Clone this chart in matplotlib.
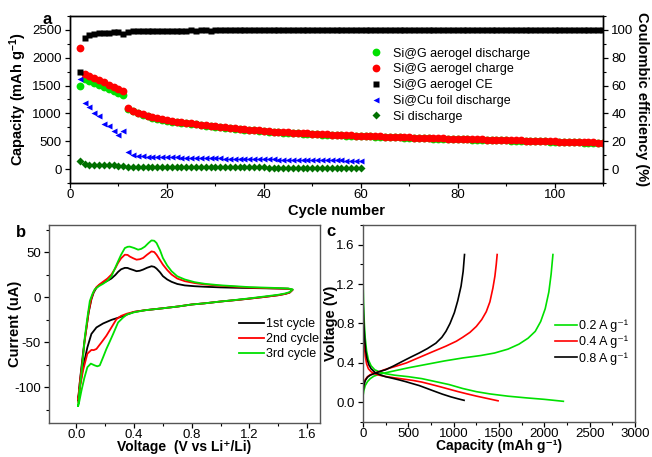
import numpy as np
import matplotlib
matplotlib.use("Agg")
import matplotlib.pyplot as plt
from matplotlib.ticker import MultipleLocator
from matplotlib.lines import Line2D

plt.rcParams['font.family'] = ['Liberation Sans', 'DejaVu Sans']
plt.rcParams['mathtext.default'] = 'regular'
plt.rcParams['axes.unicode_minus'] = False

# ---- panel a : cycling data ----
cyc_g = np.arange(2, 111)
charge_g = [2180,
            1710, 1672, 1634, 1595, 1556, 1517, 1478, 1438, 1397,
            1090, 1050, 1015, 985, 958, 934, 912, 893, 876, 862,
            850, 839, 829, 820, 810, 800, 790, 780, 770, 761,
            752, 743, 734, 725, 717, 709, 701, 693, 686, 680,
            674, 668, 663, 658, 653, 648, 643, 639, 635, 631,
            627, 623, 619, 615, 612, 609, 606, 603, 600, 597,
            594, 591, 588, 585, 582, 579, 576, 573, 570, 567,
            564, 561, 558, 556, 554, 552, 549, 547, 545, 542,
            540, 538, 535, 533, 531, 528, 526, 524, 521, 519,
            517, 514, 512, 510, 507, 505, 503, 500, 498, 495,
            493, 491, 488, 486, 484, 481, 479, 477, 476]
discharge_g = [1500,
               1610, 1575, 1540, 1505, 1470, 1436, 1402, 1368, 1335,
               1075, 1038, 1004, 975, 949, 925, 904, 885, 868, 854,
               842, 831, 821, 812, 802, 792, 782, 772, 763, 754,
               745, 736, 727, 718, 710, 702, 694, 686, 679, 673,
               667, 661, 656, 651, 646, 641, 636, 632, 628, 624,
               620, 616, 612, 608, 605, 602, 599, 596, 593, 590,
               587, 584, 581, 578, 575, 572, 569, 566, 563, 560,
               557, 554, 551, 549, 547, 545, 542, 540, 538, 535,
               533, 531, 528, 526, 524, 521, 519, 517, 514, 512,
               510, 507, 505, 503, 500, 498, 496, 493, 491, 488,
               486, 484, 481, 479, 477, 474, 472, 470, 469]
ce_g = [69.5,
        94.5, 96.6, 97.3, 97.7, 97.9, 98.1, 98.2, 98.3, 97.0,
        98.4, 98.9, 99.1, 99.2, 99.3, 99.3, 99.4, 99.4, 99.4, 99.5,
        99.5, 99.5, 99.5, 99.6, 99.5, 99.6, 99.6, 99.5, 99.6, 99.6,
        99.6, 99.6, 99.7, 99.6, 99.6, 99.7, 99.6, 99.7, 99.7, 99.6,
        99.7, 99.7, 99.7, 99.6, 99.7, 99.7, 99.7, 99.8, 99.7, 99.7,
        99.7, 99.8, 99.7, 99.7, 99.8, 99.7, 99.8, 99.7, 99.8, 99.7,
        99.8, 99.8, 99.7, 99.8, 99.8, 99.7, 99.8, 99.8, 99.8, 99.7,
        99.8, 99.8, 99.8, 99.8, 99.7, 99.8, 99.8, 99.8, 99.8, 99.8,
        99.8, 99.7, 99.8, 99.8, 99.8, 99.8, 99.8, 99.8, 99.7, 99.8,
        99.8, 99.8, 99.8, 99.8, 99.8, 99.8, 99.7, 99.8, 99.8, 99.8,
        99.8, 99.8, 99.8, 99.8, 99.8, 99.8, 99.8, 99.8, 99.8]
cyc_cu = np.arange(2, 61)
discharge_cu = [1627, 1187, 1108, 1007, 958, 808, 765, 687, 615, 692,
                313, 253, 238, 230, 225, 221, 218, 215, 212, 210,
                208, 206, 204, 202, 200, 198, 196, 194, 192, 190,
                188, 186, 184, 182, 180, 178, 176, 175, 174, 173,
                172, 170, 169, 168, 167, 166, 164, 163, 162, 161,
                160, 158, 157, 156, 155, 153, 152, 150, 148]
discharge_si = [150, 90, 78, 74, 71, 69, 67, 65, 63, 61,
                45, 43, 42, 41, 40, 40, 39, 38, 38, 37,
                37, 36, 36, 35, 35, 34, 34, 33, 33, 32,
                32, 31, 31, 30, 30, 30, 29, 29, 29, 28,
                28, 28, 27, 27, 27, 26, 26, 26, 25, 25,
                25, 25, 24, 24, 24, 23, 23, 23, 22]

# ---- panel b : CV loops (V, uA) ----
cv1_v = [0.012, 0.025, 0.04, 0.055, 0.07, 0.085, 0.104, 0.12, 0.139, 0.16, 0.185, 0.215,
         0.243, 0.27, 0.289, 0.31, 0.336, 0.355, 0.37, 0.395, 0.417, 0.44, 0.463, 0.49,
         0.521, 0.54, 0.556, 0.58, 0.60, 0.63, 0.66, 0.70, 0.752, 0.82, 0.89, 1.0, 1.1,
         1.2, 1.3, 1.4, 1.47, 1.5,
         1.48, 1.45, 1.4, 1.3, 1.2, 1.1, 1.0, 0.89, 0.8, 0.706, 0.6, 0.475, 0.4, 0.359,
         0.31, 0.243, 0.185, 0.139, 0.104, 0.076, 0.046, 0.025, 0.012]
cv1_i = [-114.7, -92, -70.6, -50, -33.8, -17, -2.6, 5, 10.3, 13.5, 15.8, 18,
         20.6, 24.5, 27.9, 30.8, 32.4, 32.3, 31.3, 30, 28.7, 29.2, 30.5, 32.5,
         34.2, 33.5, 31.6, 27.5, 23.2, 19.5, 16.9, 14.5, 12.9, 12, 11.4, 10.7, 10.3,
         10, 9.7, 9.4, 9.2, 8,
         5, 3.5, 2, 0, -1.8, -3.5, -5, -7, -8.3, -10.5, -12.5, -14.7, -16.5, -19,
         -22, -25.4, -29.4, -33.8, -41, -56, -78, -98, -114.7]
cv2_v = [0.012, 0.025, 0.04, 0.055, 0.07, 0.085, 0.104, 0.12, 0.139, 0.16, 0.185, 0.215,
         0.243, 0.27, 0.289, 0.31, 0.336, 0.355, 0.37, 0.395, 0.417, 0.44, 0.463, 0.49,
         0.521, 0.54, 0.556, 0.58, 0.60, 0.63, 0.66, 0.70, 0.752, 0.82, 0.89, 1.0, 1.1,
         1.2, 1.3, 1.4, 1.47, 1.5,
         1.48, 1.45, 1.4, 1.3, 1.2, 1.1, 1.0, 0.89, 0.8, 0.706, 0.6, 0.475, 0.4, 0.35,
         0.31, 0.278, 0.243, 0.208, 0.174, 0.139, 0.12, 0.104, 0.076, 0.046, 0.025, 0.012]
cv2_i = [-113, -93, -74, -52, -34, -16, -1.5, 6, 11, 14, 17, 20.5,
         25, 32, 37.9, 43, 47, 46.8, 45, 43, 41.5, 42, 43.4, 47,
         50.7, 50, 47, 41, 36, 30, 25, 20.5, 17.6, 15.5, 14, 12.5, 11.5,
         10.5, 10, 9.5, 9.2, 8,
         5, 3.5, 2, 0, -1.8, -3.5, -5, -7, -8.3, -10.5, -12.5, -14.7, -16.5, -18.5,
         -21, -24.6, -33.8, -43, -50.4, -57.7, -59, -58.8, -63, -81.6, -100, -116.5]
cv3_v = [0.012, 0.022, 0.035, 0.047, 0.058, 0.075, 0.093, 0.11, 0.127, 0.155, 0.185, 0.215,
         0.243, 0.265, 0.289, 0.31, 0.336, 0.355, 0.37, 0.40, 0.428, 0.45, 0.475, 0.50,
         0.521, 0.54, 0.556, 0.58, 0.60, 0.63, 0.66, 0.70, 0.752, 0.82, 0.89, 1.0, 1.1,
         1.2, 1.3, 1.4, 1.47, 1.5,
         1.48, 1.45, 1.4, 1.3, 1.2, 1.1, 1.0, 0.89, 0.8, 0.706, 0.6, 0.475, 0.4, 0.35,
         0.324, 0.289, 0.255, 0.23, 0.208, 0.185, 0.162, 0.145, 0.127, 0.10, 0.076,
         0.055, 0.035, 0.02, 0.012]
cv3_i = [-121, -102, -85, -65, -45, -24, -4.4, 3, 8.5, 12, 14.7, 18,
         23, 31, 39.7, 47, 54.4, 55.8, 56, 54.5, 52.6, 53.5, 56, 60,
         62.9, 62.5, 60, 52, 43.4, 35, 28.7, 23, 19.5, 16.5, 14.7, 13, 12,
         11, 10.5, 10, 9.5, 8.5,
         5.5, 4, 2.5, 0.5, -1.5, -3.3, -5, -7, -8.3, -10.5, -12.5, -14.7, -17, -19.5,
         -22.8, -28.3, -41, -50, -57.7, -67, -76, -77, -76, -74, -78,
         -90, -104, -116, -121]

# ---- panel c : galvanostatic profiles (mAh/g, V) ----
g_dis_c = [0, 3, 7, 15, 25, 40, 60, 90, 130, 180, 250, 350, 500, 650, 800, 950, 1100,
           1250, 1400, 1600, 1800, 2000, 2210]
g_dis_v = [1.34, 1.15, 0.99, 0.80, 0.65, 0.52, 0.43, 0.37, 0.33, 0.31, 0.29, 0.275, 0.26,
           0.24, 0.21, 0.18, 0.14, 0.108, 0.085, 0.062, 0.045, 0.03, 0.01]
g_chg_c = [0, 10, 25, 50, 80, 120, 180, 250, 350, 500, 700, 900, 1100, 1300, 1450, 1600,
           1720, 1820, 1900, 1960, 2010, 2050, 2075, 2095]
g_chg_v = [0.06, 0.12, 0.17, 0.21, 0.24, 0.265, 0.285, 0.30, 0.32, 0.35, 0.385, 0.42, 0.45,
           0.475, 0.50, 0.54, 0.59, 0.65, 0.72, 0.82, 0.95, 1.12, 1.3, 1.5]
r_dis_c = [0, 3, 8, 15, 25, 40, 60, 90, 130, 180, 250, 350, 450, 550, 650, 750, 850, 950,
           1050, 1150, 1250, 1350, 1430, 1490]
r_dis_v = [1.0, 0.85, 0.7, 0.57, 0.47, 0.39, 0.34, 0.31, 0.29, 0.275, 0.262, 0.248, 0.235,
           0.222, 0.205, 0.182, 0.158, 0.133, 0.108, 0.085, 0.063, 0.043, 0.027, 0.015]
r_chg_c = [0, 10, 25, 50, 80, 120, 175, 250, 360, 480, 620, 760, 915, 1030, 1100, 1180,
           1250, 1310, 1360, 1400, 1433, 1455, 1470, 1480]
r_chg_v = [0.13, 0.19, 0.23, 0.26, 0.28, 0.295, 0.31, 0.335, 0.365, 0.40, 0.455, 0.51,
           0.57, 0.62, 0.66, 0.71, 0.77, 0.84, 0.92, 1.02, 1.16, 1.28, 1.4, 1.5]
k_dis_c = [0, 3, 8, 18, 30, 45, 65, 90, 137, 200, 248, 320, 396, 470, 544, 620, 693, 780,
           878, 970, 1050, 1115]
k_dis_v = [1.14, 0.98, 0.82, 0.65, 0.52, 0.44, 0.38, 0.34, 0.30, 0.275, 0.26, 0.245, 0.228,
           0.21, 0.19, 0.17, 0.145, 0.115, 0.082, 0.055, 0.035, 0.02]
k_chg_c = [0, 10, 25, 50, 80, 120, 175, 249, 340, 434, 530, 619, 710, 804, 870, 915, 960,
           1008, 1045, 1082, 1105, 1120]
k_chg_v = [0.10, 0.17, 0.22, 0.255, 0.275, 0.29, 0.31, 0.33, 0.37, 0.415, 0.46, 0.50,
           0.545, 0.60, 0.66, 0.72, 0.80, 0.91, 1.03, 1.18, 1.33, 1.5]

fig = plt.figure(figsize=(6.52, 4.57), dpi=100)

def style(ax, col='black'):
    ax.tick_params(which='both', direction='out', labelsize=9.5, colors='black')
    ax.tick_params(which='major', length=3.5, width=0.9, pad=2.5)
    ax.tick_params(which='minor', length=2.0, width=0.8)
    ax.tick_params(axis='x', which='major', pad=0.5)
    for s in ax.spines.values():
        s.set_color(col)
        s.set_linewidth(1.0)

# ---------------- panel a ----------------
ax = fig.add_axes([0.1074, 0.5996, 0.8175, 0.3654])
ax.plot(cyc_g, discharge_g, 'o', color='#00e000', ms=5.6, mec='none', zorder=3)
ax.plot(cyc_g, charge_g, 'o', color='#ff0000', ms=5.6, mec='none', zorder=4)
ax.plot(cyc_cu, discharge_cu, '<', color='#0000ff', ms=4.8, mec='none', zorder=3)
ax.plot(cyc_cu, discharge_si, 'D', color='#007000', ms=3.8, mec='none', zorder=3)
ax.set_xlim(0, 110)
ax.set_ylim(-250, 2750)
ax.xaxis.set_major_locator(MultipleLocator(20))
ax.xaxis.set_minor_locator(MultipleLocator(10))
ax.yaxis.set_major_locator(MultipleLocator(500))
ax.yaxis.set_minor_locator(MultipleLocator(250))
style(ax)
ax.set_xlabel('Cycle number', fontsize=10.5, fontweight='bold', va='center')
ax.xaxis.set_label_coords(0.5, -0.165)
ax.set_ylabel('Capacity (mAh g$^{-1}$)', fontsize=10.5, fontweight='bold', va='center')
ax.yaxis.set_label_coords(-0.097, 0.5)

ax2 = ax.twinx()
ax2.plot(cyc_g, ce_g, 's', color='black', ms=5.0, mec='none', zorder=3)
ax2.set_ylim(-10, 110)
ax2.yaxis.set_major_locator(MultipleLocator(20))
ax2.yaxis.set_minor_locator(MultipleLocator(10))
style(ax2)
ax2.set_ylabel('Coulombic efficiency (%)', fontsize=10.5, fontweight='bold',
               rotation=270, va='center')
ax2.yaxis.set_label_coords(1.073, 0.5)

handles = [Line2D([], [], ls='none', marker='o', color='#00e000', ms=5.6, mec='none'),
           Line2D([], [], ls='none', marker='o', color='#ff0000', ms=5.6, mec='none'),
           Line2D([], [], ls='none', marker='s', color='black', ms=4.5, mec='none'),
           Line2D([], [], ls='none', marker='<', color='#0000ff', ms=4.5, mec='none'),
           Line2D([], [], ls='none', marker='D', color='#007000', ms=3.8, mec='none')]
labels = ['Si@G aerogel discharge', 'Si@G aerogel charge', 'Si@G aerogel CE',
          'Si@Cu foil discharge', 'Si discharge']
ax2.legend(handles, labels, loc='upper left', bbox_to_anchor=(0.562, 0.81),
           frameon=False, fontsize=9, handlelength=1.0, handletextpad=0.85,
           labelspacing=0.3, borderpad=0, borderaxespad=0)
fig.text(47 / 652, 1 - 19 / 457, 'a', fontsize=12, fontweight='bold', ha='center', va='center')

# ---------------- panel b ----------------
axb = fig.add_axes([0.0752, 0.0744, 0.4156, 0.4332])
axb.plot(cv1_v, cv1_i, color='black', lw=1.3, label='1st cycle')
axb.plot(cv2_v, cv2_i, color='#ff0000', lw=1.3, label='2nd cycle')
axb.plot(cv3_v, cv3_i, color='#00e000', lw=1.3, label='3rd cycle')
axb.set_xlim(-0.19, 1.69)
axb.set_ylim(-140, 80)
axb.xaxis.set_major_locator(MultipleLocator(0.4))
axb.xaxis.set_minor_locator(MultipleLocator(0.2))
axb.yaxis.set_major_locator(MultipleLocator(50))
axb.yaxis.set_minor_locator(MultipleLocator(25))
axb.xaxis.set_major_formatter(matplotlib.ticker.FormatStrFormatter('%.1f'))
style(axb, '#555555')
axb.set_xlabel('Voltage  (V vs Li⁺/Li)', fontsize=10, fontweight='bold', va='center')
axb.xaxis.set_label_coords(0.5, -0.122)
axb.set_ylabel('Current (uA)', fontsize=10.5, fontweight='bold', va='center')
axb.yaxis.set_label_coords(-0.125, 0.5)
axb.legend(loc='upper left', bbox_to_anchor=(0.70, 0.53), frameon=False, fontsize=9,
           handlelength=2.0, handletextpad=0.15, labelspacing=0.25, borderpad=0,
           borderaxespad=0)
fig.text(21 / 652, 1 - 233 / 457, 'b', fontsize=12, fontweight='bold', ha='center', va='center')

# ---------------- panel c ----------------
axc = fig.add_axes([0.5567, 0.0766, 0.4172, 0.4311])
axc.plot(g_dis_c, g_dis_v, color='#00e000', lw=1.2)
axc.plot(g_chg_c, g_chg_v, color='#00e000', lw=1.2, label='0.2 A g⁻¹')
axc.plot(r_dis_c, r_dis_v, color='#ff0000', lw=1.2)
axc.plot(r_chg_c, r_chg_v, color='#ff0000', lw=1.2, label='0.4 A g⁻¹')
axc.plot(k_dis_c, k_dis_v, color='black', lw=1.2)
axc.plot(k_chg_c, k_chg_v, color='black', lw=1.2, label='0.8 A g⁻¹')
axc.set_xlim(0, 3000)
axc.set_ylim(-0.2, 1.8)
axc.xaxis.set_major_locator(MultipleLocator(500))
axc.xaxis.set_minor_locator(MultipleLocator(250))
axc.yaxis.set_major_locator(MultipleLocator(0.4))
axc.yaxis.set_minor_locator(MultipleLocator(0.2))
style(axc, '#555555')
axc.set_xlabel('Capacity (mAh g⁻¹)', fontsize=10, fontweight='bold', va='center')
axc.xaxis.set_label_coords(0.5, -0.122)
axc.set_ylabel('Voltage (V)', fontsize=10.5, fontweight='bold', va='center')
axc.yaxis.set_label_coords(-0.118, 0.5)
axc.legend(loc='upper left', bbox_to_anchor=(0.705, 0.52), frameon=False, fontsize=9,
           handlelength=1.8, handletextpad=0.15, labelspacing=0.3, borderpad=0,
           borderaxespad=0)
fig.text(331 / 652, 1 - 232 / 457, 'c', fontsize=12, fontweight='bold', ha='center', va='center')

fig.savefig('out.png', dpi=100)
